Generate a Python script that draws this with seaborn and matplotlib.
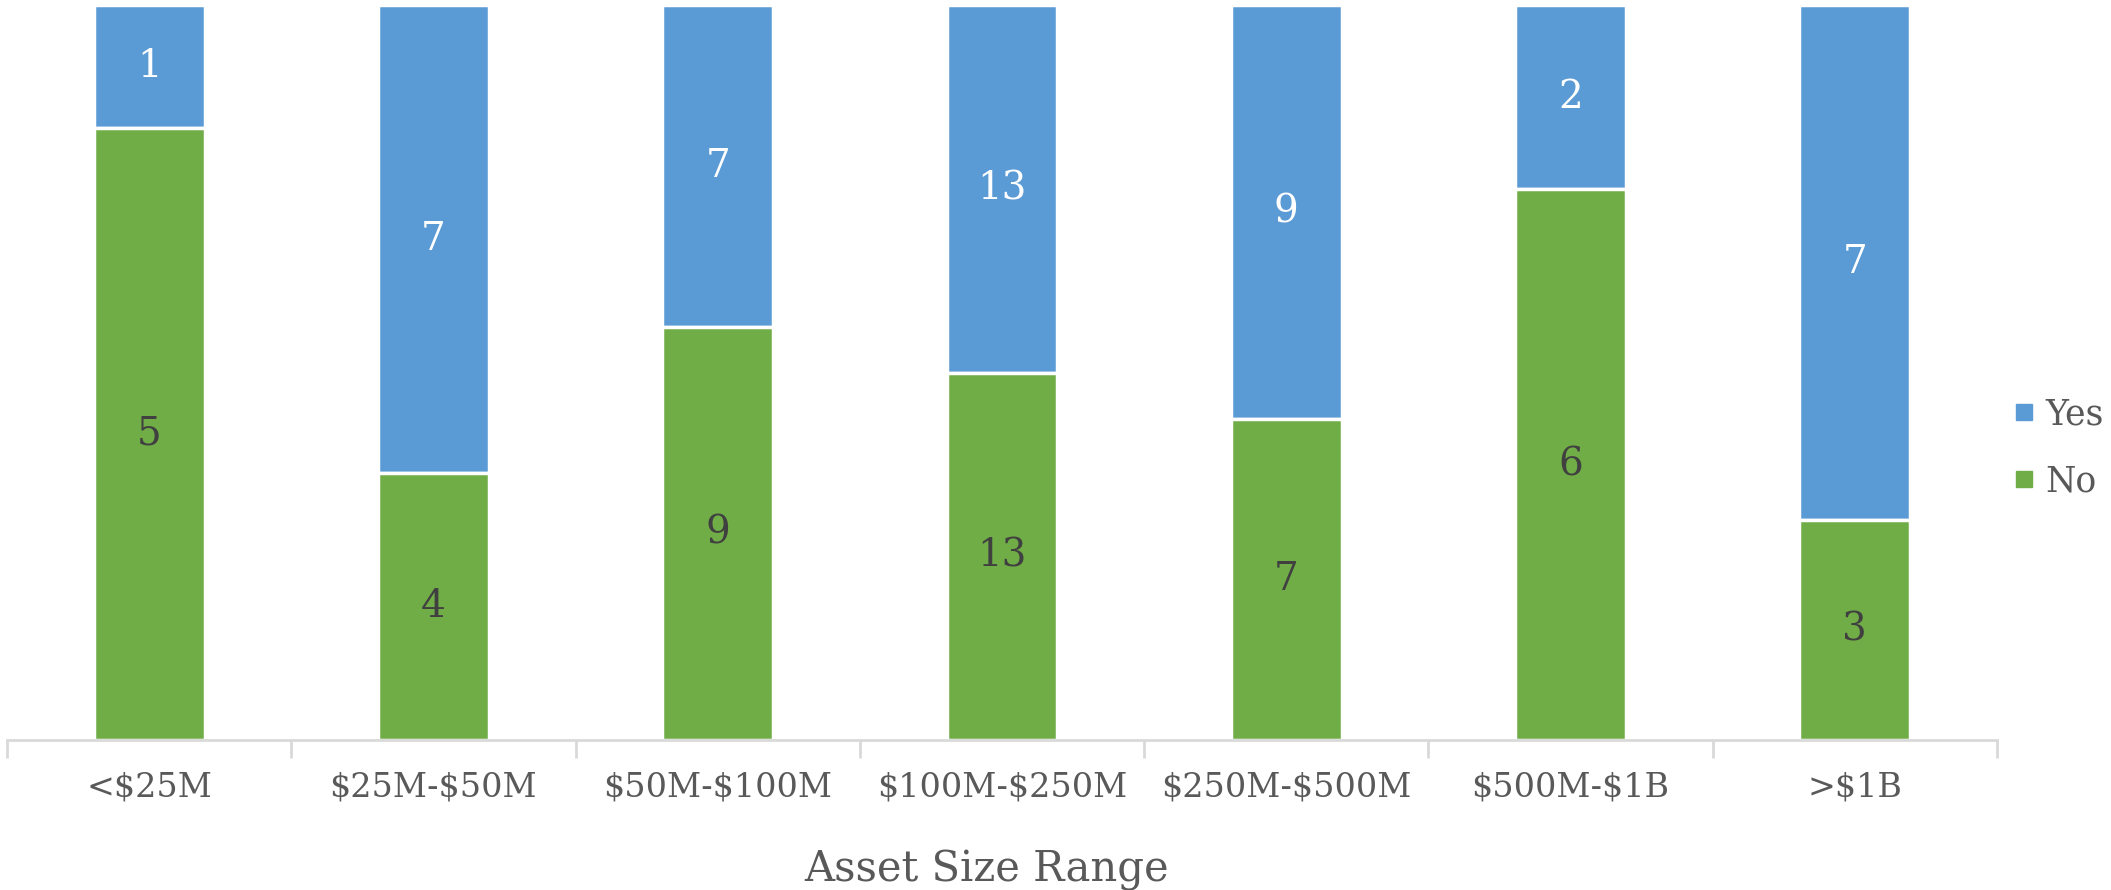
import numpy as np
import pandas as pd
import matplotlib
matplotlib.use("Agg")
import matplotlib.pyplot as plt
import seaborn as sns
from matplotlib.lines import Line2D

categories = ["<$25M", "$25M-$50M", "$50M-$100M", "$100M-$250M", "$250M-$500M", "$500M-$1B", ">$1B"]
yes_counts = [1, 7, 7, 13, 9, 2, 7]
no_counts = [5, 4, 9, 13, 7, 6, 3]
series_names = ["Yes", "No"]
xlabel = "Asset Size Range"

BLUE = "#5B9BD5"
GREEN = "#70AD47"
TEXT = "#595959"

sns.set_theme(style="white")
plt.rcParams["font.family"] = ["DejaVu Serif"]
plt.rcParams["text.parse_math"] = False

yes = np.array(yes_counts, dtype=float)
no = np.array(no_counts, dtype=float)
tot = yes + no
df = pd.DataFrame({
    "cat": categories,
    "total": 100.0,
    "no_pct": no / tot * 100,
})

fig = plt.figure(figsize=(21.11, 8.9), dpi=100)
ax = fig.add_axes([0.0033, 0.1685, 0.9427, 0.8255])

sns.barplot(data=df, x="cat", y="total", color=BLUE, saturation=1, width=0.39,
            edgecolor="white", linewidth=2.5, ax=ax)
sns.barplot(data=df, x="cat", y="no_pct", color=GREEN, saturation=1, width=0.39,
            edgecolor="white", linewidth=2.5, ax=ax)

c_yes, c_no = ax.containers[0], ax.containers[1]
for rect, npct in zip(c_yes, df["no_pct"]):
    rect.set_y(npct)
    rect.set_height(100 - npct)
ax.bar_label(c_yes, labels=[str(v) for v in yes_counts], label_type="center",
             color="white", fontsize=28)
ax.bar_label(c_no, labels=[str(v) for v in no_counts], label_type="center",
             color="#404040", fontsize=28)

ax.set_ylim(0, 100)
ax.set_xlim(-0.5, len(categories) - 0.5)
ax.set_yticks([])
ax.set_ylabel("")
for s in ["top", "right", "left"]:
    ax.spines[s].set_visible(False)
ax.spines["bottom"].set_color("#D9D9D9")
ax.spines["bottom"].set_linewidth(2)

ax.set_xticks(range(len(categories)))
ax.set_xticklabels(categories, fontsize=24, color=TEXT)
ax.tick_params(axis="x", which="major", bottom=True, length=0, pad=23)
ax.set_xticks(np.arange(-0.5, len(categories)), minor=True)
ax.tick_params(axis="x", which="minor", bottom=True, length=13, width=2,
               color="#D9D9D9", direction="out")

ax.set_xlabel(xlabel, fontsize=30, color=TEXT)
ax.xaxis.set_label_coords(0.492, -0.148)

handles = [Line2D([0], [0], marker="s", linestyle="none", markersize=12,
                  markerfacecolor=BLUE, markeredgecolor=BLUE),
           Line2D([0], [0], marker="s", linestyle="none", markersize=12,
                  markerfacecolor=GREEN, markeredgecolor=GREEN)]
leg = fig.legend(handles, series_names, loc="center left", bbox_to_anchor=(0.954, 0.497),
                 frameon=False, fontsize=25, handletextpad=0.3, labelspacing=0.95,
                 handlelength=0.6, borderaxespad=0, borderpad=0)
for t in leg.get_texts():
    t.set_color(TEXT)

fig.savefig("out.png", dpi=100)
